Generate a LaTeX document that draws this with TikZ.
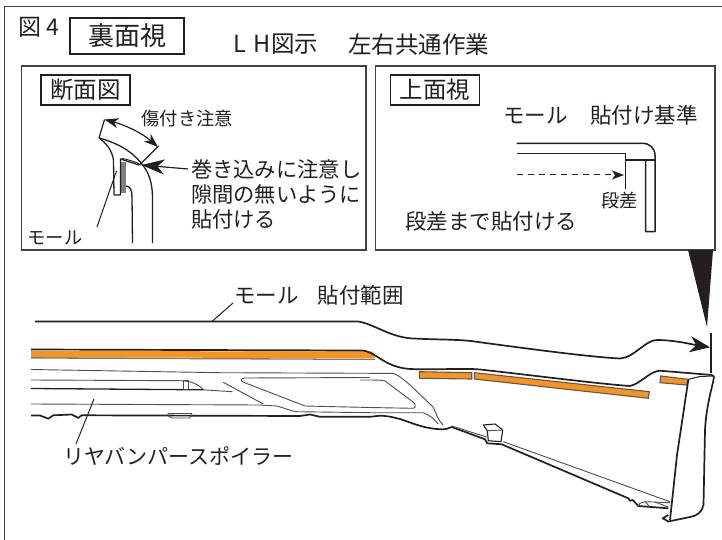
\documentclass[tikz,border=0pt]{standalone}
\usepackage{fontspec}
\setmainfont{Noto Sans CJK JP}
\usetikzlibrary{arrows.meta}
\definecolor{ink}{HTML}{231F20}
\definecolor{moulding}{HTML}{F7941D}
\definecolor{strip}{HTML}{808080}
\tikzset{
  every node/.style={text=ink,inner sep=0pt,outer sep=0pt},
  frameline/.style={draw=ink!85,line width=1.7pt},
  panel/.style={draw=ink!85,line width=1.2pt},
  tagbox/.style={draw=ink,line width=1.5pt,minimum height=30pt,minimum width=89pt},
  part/.style={draw=ink,line width=1.7pt,line join=round},
  thin part/.style={draw=ink!80,line width=.9pt,line join=round},
  bar/.style={fill=moulding,draw=ink!75,line width=1.1pt},
  leader/.style={draw=ink,line width=1pt},
  tip/.style={-{Stealth[length=20pt,width=16pt,inset=6pt]}},
  lbl/.style={anchor=west,font=\fontsize{21.5}{25}\selectfont},
  small/.style={anchor=west,font=\fontsize{18.3}{22}\selectfont}
}
\begin{document}
\begin{tikzpicture}[x=1pt,y=-1pt]
\useasboundingbox (0,0) rectangle (722,540);
\fill[white] (0,0) rectangle (722,540);
% outer frame
\draw[frameline] (722,6.5) -- (4.5,6.5) -- (4.5,540);
\node[anchor=west,font=\fontsize{23}{27}\selectfont] (fig) at (18,27) {図 4};
\node[draw=ink,line width=1.9pt,minimum width=114pt,minimum height=36pt,font=\fontsize{26}{30}\selectfont] (title) at (127,36) {裏面視};
\node[anchor=west,font=\fontsize{23.5}{28}\selectfont] (noteA) at (233,44.5) {L\hspace{.35em}H図示};
\node[anchor=west,font=\fontsize{23.5}{28}\selectfont] (noteB) at (348,44.5) {左右共通作業};
% panels
\draw[panel] (21.5,66) rectangle (366,250);
\draw[panel] (375.5,66) rectangle (715,250);
\node[tagbox,font=\fontsize{23.5}{28}\selectfont] (tagA) at (85.5,90) {断面図};
\node[tagbox,font=\fontsize{23.5}{28}\selectfont] (tagB) at (435,90) {上面視};
% section view
\fill[strip] (120.5,162) rectangle (126,193);
\draw[leader,line width=1.2pt] (99,138) -- (104.5,119.5);
\draw[leader,line width=1.2pt] (140.5,164) -- (158.5,146);
\draw[part,line width=1.3pt] (99,138) .. controls (122,144) and (135,155) .. (141,163) .. controls (149,172) and (152.5,183) .. (152.5,198) -- (152.5,243);
\draw[part,line width=1.3pt] (99,138) .. controls (106,143) and (112,150) .. (113.5,160) -- (114,195) -- (120.5,195) -- (120.5,159) -- (139,165);
\draw[part,line width=1.3pt] (126,186) .. controls (130,186) and (132,190) .. (132,197) -- (132.5,243);
\draw[part,line width=.9pt] (122,158.5) .. controls (130,160) and (136,162) .. (141,165);
\coordinate (arcA) at (104.5,119.5);
\coordinate (arcB) at (158,147);
\draw[leader,line width=1.2pt,{Stealth[length=14pt,width=10pt,inset=4pt]}-{Stealth[length=14pt,width=10pt,inset=4pt]}] (arcA) .. controls (125,125) and (142,133) .. (arcB);
\node[small] (scratch) at (141.5,118.5) {傷付き注意};
\coordinate (gapTip) at (141.5,165);
\node[anchor=north west,align=left,font=\fontsize{21.3}{25}\selectfont] (gapNote) at (191,160) {巻き込みに注意し\\隙間の無いように\\貼付ける};
\draw[leader,line width=1.2pt,-{Stealth[length=23pt,width=15pt,inset=7pt]}] (188,169) -- (gapTip);
\node[small] (mallA) at (27.5,238) {モール};
\coordinate (stripPt) at (116.5,171);
\draw[leader] (stripPt) -- (97,227);
% top view
\draw[part,line width=1.5pt] (516.7,143.3) -- (642,143.3) .. controls (650,143.3) and (655,148) .. (655,156) -- (655,231.7) -- (645.7,231.7) -- (645.7,160);
\draw[part,line width=1.5pt] (516.7,153.3) -- (625.7,153.3) -- (625.7,160) -- (655,160);
\draw[leader] (625.7,160) -- (625.7,188.5);
\coordinate (dashStart) at (516.7,175);
\coordinate (dashEnd) at (624,175);
\draw[leader,dash pattern=on 6pt off 5pt] (dashStart) -- (dashEnd);
\fill[ink] (612,170.5) -- (624,175) -- (612,179.5) -- (615,175) -- cycle;
\node[lbl] (stdNote) at (503,115) {モール\hspace{1.05em}貼付け基準};
\node[small] (stepNote) at (601.5,201) {段差};
\node[lbl] (stepTo) at (405,221.5) {段差まで貼付ける};
% big pointer
\fill[ink] (688,250) -- (713,250) -- (707,327) -- cycle;
% moulding run
\node[lbl] (rangeNote) at (234,295.5) {モール\hspace{.9em}貼付範囲};
\coordinate (runPt) at (212,321.5);
\draw[leader] (runPt) -- (233,303);
\coordinate (runEnd) at (710,347.3);
\draw[part,tip] (35,321.5) -- (358,321.5) .. controls (374,324) and (388,336) .. (410,338.3) .. controls (440,340) and (460,339) .. (478,342) .. controls (530,349) and (590,357) .. (620,358.5) .. controls (634,358) and (645,340) .. (657,340) .. controls (675,340) and (695,345) .. (runEnd);
\draw[draw=ink,line width=1.6pt] (711,333) -- (711,373);
% orange bars
\fill[ink!60] (31,357) -- (375,358.8) -- (375,360) -- (31,358.6) -- cycle;
\fill[moulding] (31,351) -- (373,351.5) -- (375,358.3) -- (31,357.2) -- cycle;
\draw[bar] (419.3,371.7) -- (471.7,372.7) -- (471.7,379) -- (419.3,378.3) -- cycle;
\draw[bar] (474.3,372.7) -- (649.3,391.7) -- (648.3,398.3) -- (474.3,379) -- cycle;
\draw[bar] (688,379.3) -- (660.7,376) -- (660,382.7) -- (686.7,385) -- cycle;
% spoiler upper edge
\draw[part] (31,349.5) -- (360,350.5) .. controls (376,350) and (382,367) .. (410,369) .. controls (435,370) and (465,368) .. (480,369.5) .. controls (530,375) and (600,384) .. (630,386) .. controls (640,384) and (650,371) .. (660,370.7) -- (712,375) .. controls (714,375) and (714.5,378) .. (713.5,380) .. controls (710,395) and (706,410) .. (705,430) -- (703.5,505) .. controls (702,512) and (697,516) .. (690,517) -- (668.3,521.5) -- (662.7,518.3) -- (668.3,515);
\draw[part] (688.3,380) -- (677,455) -- (670,520);
\draw[part,line width=1pt] (688,379.5) -- (700,376.5) -- (712,376);
% inner lines
\draw[thin part] (31,369.5) -- (220,372.7) -- (370,373.3) -- (393.3,373.3) .. controls (405,378) and (420,395) .. (433,407) .. controls (437,415) and (438,420) .. (443,425);
\draw[thin part] (31,380) -- (180,380.7) .. controls (190,381) and (197,383) .. (203.3,389.8);
\draw[part,line width=1.3pt] (31,388.5) -- (203,389.8);
\draw[thin part] (203,389.8) -- (232.3,391.7);
\draw[thin part] (183.5,380.7) rectangle (188.7,389.5);
\draw[thin part] (223.3,382.3) -- (263.3,404);
\draw[thin part] (370,377.5) -- (245,378) .. controls (240.5,378.5) and (240,380.5) .. (243,382) -- (305,406) -- (370,407.5) -- (413,408.3) .. controls (416,408) and (416,404.5) .. (413,402) -- (385,381) .. controls (382,380) and (375,380) .. (360,380);
\draw[thin part] (31,404) -- (260,405) -- (276.7,406) .. controls (285,408) and (290,411) .. (297,411.7) -- (370,412.7) -- (423,412.7) .. controls (430,415) and (434,419) .. (438.3,424);
% lower edge
\draw[part] (31,415.5) -- (40,415.5) -- (48.3,418.7) -- (53.3,415.3) -- (71.7,414.5) -- (78.3,417.9) -- (81.7,415.3) -- (300,416) -- (310,414.5) -- (320,416.8) -- (370,416.8) -- (380,415.7) .. controls (390,416) and (395,418) .. (400,419) .. controls (415,424) and (425,429) .. (443,429.3) .. controls (448,429.3) and (450,427) .. (451.7,427) -- (485,439.3) -- (487.3,443.3) -- (501.7,444.3) -- (628.3,498.3) -- (630,500.7) -- (632.7,500) -- (638.3,506) -- (668.3,508.3);
\draw[thin part] (168,415.7) -- (168,413.5) -- (191.7,413.5) -- (191.7,415.7) -- (189,418) -- (172,418) -- cycle;
% clip
\draw[part,line width=1.1pt,fill=white] (483.3,425) -- (495,424) -- (502.7,430) -- (501,441.7) -- (488.3,440.7) -- (487.3,430.7) -- cycle;
\draw[thin part] (487.3,430.7) -- (502.7,430);
\draw[thin part] (451.7,426) -- (486.7,437);
\draw[thin part] (503.3,441.7) -- (670,501.7);
% lower right clip
\draw[thin part] (638.3,506) -- (640,503.3) -- (645,501.7) -- (670,502.7);
\draw[thin part] (645,501.7) -- (650,507);
\draw[thin part] (655,502) -- (668,507);
% wording
\node[anchor=west,font=\fontsize{21}{26}\selectfont] (spoiler) at (63,456.5) {リヤバンパースポイラー};
\coordinate (spoilerPt) at (94,399);
\draw[leader] (spoilerPt) -- (76,444);
\end{tikzpicture}
\end{document}
